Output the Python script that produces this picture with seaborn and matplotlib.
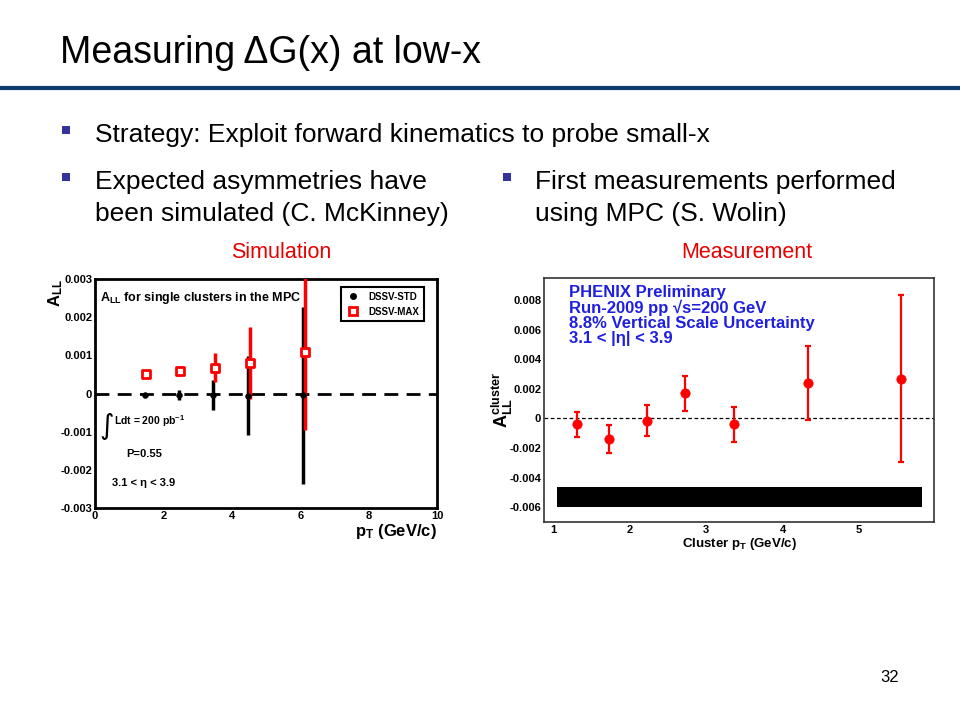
import pandas as pd
import matplotlib.pyplot as plt
import seaborn as sns
from matplotlib.lines import Line2D
from matplotlib.patches import Rectangle
from matplotlib.ticker import MultipleLocator, FuncFormatter

# --- simulation (C. McKinney): A_LL vs pT, two DSSV sets ---
sim_pt_std = [1.47, 2.47, 3.46, 4.46, 6.07]
sim_all_std = [-0.00003, -0.00003, -0.00003, -0.00006, -0.00005]
sim_err_std = [0.00002, 0.00013, 0.00039, 0.00103, 0.00232]

sim_pt_max = [1.49, 2.49, 3.52, 4.53, 6.13]
sim_all_max = [0.00052, 0.00059, 0.00068, 0.0008, 0.00108]
sim_err_max = [0.00003, 0.00013, 0.00037, 0.00095, 0.00203]

# --- measurement (S. Wolin): cluster A_LL vs cluster pT ---
meas_pt = [1.31, 1.73, 2.23, 2.72, 3.36, 4.33, 5.55]
meas_all = [-0.0004, -0.0014, -0.00015, 0.0017, -0.0004, 0.0024, 0.0027]
meas_err = [0.00085, 0.00094, 0.00105, 0.0012, 0.0012, 0.00247, 0.00565]

# scale uncertainty band
band_pt = [1.05, 5.82]
band_lo = -0.0060
band_hi = -0.0046

sns.set_theme(style="white")
plt.rcParams["font.family"] = ["Liberation Sans", "DejaVu Sans"]
plt.rcParams["mathtext.fontset"] = "custom"
plt.rcParams["mathtext.rm"] = "Liberation Sans"
plt.rcParams["mathtext.it"] = "Liberation Sans:italic"
plt.rcParams["mathtext.bf"] = "Liberation Sans:bold"
for key in ["text.color", "axes.labelcolor", "xtick.color", "ytick.color"]:
    plt.rcParams[key] = "black"

NAVY = "#0E3B6E"
BULLET = "#333399"
RED = "#E60000"
BLUE = "#1F1FE0"


def fx(x):
    return x / 960


def fy(y):
    return 1 - y / 720


fig = plt.figure(figsize=(9.6, 7.2), dpi=100)
fig.patch.set_facecolor("white")

# slide header
fig.text(fx(60), fy(53), "Measuring ΔG(x) at low-x", fontsize=27, ha="left", va="center")
fig.add_artist(Line2D([0, 1], [fy(88), fy(88)], transform=fig.transFigure, color=NAVY, lw=3))


def bullet(x, y):
    fig.add_artist(Rectangle((fx(x), fy(y + 4)), 8 / 960, 8 / 720, transform=fig.transFigure,
                             facecolor=BULLET, edgecolor="none"))


bullet(62, 130)
fig.text(fx(95), fy(135), "Strategy: Exploit forward kinematics to probe small-x", fontsize=19, va="center")
bullet(62, 177)
fig.text(fx(95), fy(182), "Expected asymmetries have", fontsize=19, va="center")
fig.text(fx(95), fy(214), "been simulated (C. McKinney)", fontsize=19, va="center")
bullet(503, 177)
fig.text(fx(535), fy(182), "First measurements performed", fontsize=19, va="center")
fig.text(fx(535), fy(214), "using MPC (S. Wolin)", fontsize=19, va="center")

fig.text(fx(281), fy(252), "Simulation", fontsize=15.5, color=RED, ha="center", va="center")
fig.text(fx(747), fy(252), "Measurement", fontsize=15.5, color=RED, ha="center", va="center")
fig.text(fx(890), fy(678), "32", fontsize=12, ha="center", va="center")


def fmt(v, _):
    if abs(v) < 1e-12:
        return "0"
    return f"{v:.3f}"


# ---------------- left: simulation ----------------
ax1 = fig.add_axes([fx(95), fy(508), 342 / 960, 229 / 720])
ax1.errorbar(sim_pt_std, sim_all_std, yerr=sim_err_std, fmt="none", ecolor="black", elinewidth=2.5, zorder=2)
ax1.errorbar(sim_pt_max, sim_all_max, yerr=sim_err_max, fmt="none", ecolor="red", elinewidth=2.5, zorder=3)
sns.scatterplot(x=sim_pt_std, y=sim_all_std, color="black", marker="o", s=18, edgecolor="black", ax=ax1, zorder=4)
sns.scatterplot(x=sim_pt_max, y=sim_all_max, color="white", marker="s", s=40, edgecolor="red",
                linewidth=2, ax=ax1, zorder=5)
ax1.axhline(0, color="black", lw=2, ls=(0, (5, 3)), zorder=1)

ax1.set_xlim(0, 10)
ax1.set_ylim(-0.003, 0.003)
ax1.xaxis.set_major_locator(MultipleLocator(2))
ax1.xaxis.set_minor_locator(MultipleLocator(0.5))
ax1.yaxis.set_major_locator(MultipleLocator(0.001))
ax1.yaxis.set_minor_locator(MultipleLocator(0.0001))
ax1.yaxis.set_major_formatter(FuncFormatter(fmt))
ax1.tick_params(which="both", direction="in", top=False, right=False, labelsize=8, pad=2)
ax1.tick_params(which="major", length=8, width=2)
ax1.tick_params(which="minor", length=4, width=2)
for lab in ax1.get_xticklabels() + ax1.get_yticklabels():
    lab.set_fontweight("bold")
for sp in ax1.spines.values():
    sp.set_color("black")
    sp.set_linewidth(2)

ax1.set_xlabel(r"$\mathbf{p_T}$ (GeV/c)", fontsize=12, fontweight="bold", loc="right", labelpad=1)
ax1.set_ylabel(r"$\mathbf{A_{LL}}$", fontsize=12, fontweight="bold", loc="top", labelpad=-3)

ax1.text(0.015, 0.915, r"$\mathbf{A_{LL}}$ for single clusters in the MPC", transform=ax1.transAxes,
         fontsize=9, fontweight="bold", va="center")
ax1.text(0.012, 0.36, "∫", transform=ax1.transAxes, fontsize=20, va="center", family=["DejaVu Sans"])
ax1.text(0.055, 0.38, r"Ldt = 200 pb$^{\mathbf{-1}}$", transform=ax1.transAxes, fontsize=7.5,
         fontweight="bold", va="center")
ax1.text(0.09, 0.235, "P=0.55", transform=ax1.transAxes, fontsize=8, fontweight="bold", va="center")
ax1.text(0.05, 0.11, "3.1 < η < 3.9", transform=ax1.transAxes, fontsize=8, fontweight="bold", va="center")

handles = [
    Line2D([], [], marker="o", color="black", linestyle="none", markersize=4),
    Line2D([], [], marker="s", markerfacecolor="white", markeredgecolor="red", markeredgewidth=2,
           linestyle="none", markersize=6),
]
leg = ax1.legend(handles, ["DSSV-STD", "DSSV-MAX"], loc="upper right", bbox_to_anchor=(0.975, 0.985),
                 frameon=True, fancybox=False, framealpha=1, edgecolor="black", handletextpad=0.8,
                 handlelength=1.6, borderpad=0.45, labelspacing=0.5,
                 prop={"size": 7, "weight": "bold"})
leg.get_frame().set_linewidth(1.5)

# ---------------- right: measurement ----------------
ax2 = fig.add_axes([fx(544), fy(522), 390 / 960, 244 / 720])
ax2.fill_between(band_pt, band_lo, band_hi, color="black", lw=0, zorder=1)
ax2.axhline(0, color="black", lw=0.9, ls=(0, (3, 2)), zorder=1)
ax2.errorbar(meas_pt, meas_all, yerr=meas_err, fmt="none", ecolor="red", elinewidth=1.6,
             capsize=2.5, capthick=1.6, zorder=2)
sns.scatterplot(x=meas_pt, y=meas_all, color="red", marker="o", s=45, edgecolor="red", ax=ax2, zorder=3)

ax2.set_xlim(0.88, 5.98)
ax2.set_ylim(-0.0070, 0.0095)
ax2.xaxis.set_major_locator(MultipleLocator(1))
ax2.xaxis.set_minor_locator(MultipleLocator(0.2))
ax2.yaxis.set_major_locator(MultipleLocator(0.002))
ax2.yaxis.set_minor_locator(MultipleLocator(0.0005))
ax2.yaxis.set_major_formatter(FuncFormatter(fmt))
ax2.tick_params(which="both", direction="in", top=False, right=False, labelsize=8, pad=2, color="#333333")
ax2.tick_params(which="major", length=9, width=1)
ax2.tick_params(which="minor", length=5, width=1)
for lab in ax2.get_xticklabels() + ax2.get_yticklabels():
    lab.set_fontweight("bold")
for sp in ax2.spines.values():
    sp.set_color("#333333")
    sp.set_linewidth(1.2)

ax2.set_xlabel(r"Cluster $\mathbf{p_T}$ (GeV/c)", fontsize=9.5, fontweight="bold", labelpad=1)
ax2.set_ylabel(r"$\mathbf{A_{LL}^{cluster}}$", fontsize=13, fontweight="bold", labelpad=-4)

info = ["PHENIX Preliminary", "Run-2009 pp √s=200 GeV", "8.8% Vertical Scale Uncertainty", "3.1 < |η| < 3.9"]
for i, line in enumerate(info):
    ax2.text(0.063, 0.94 - i * 0.063, line, transform=ax2.transAxes, fontsize=12, fontweight="bold",
             color=BLUE, va="center")

fig.savefig("out.png", dpi=100)
